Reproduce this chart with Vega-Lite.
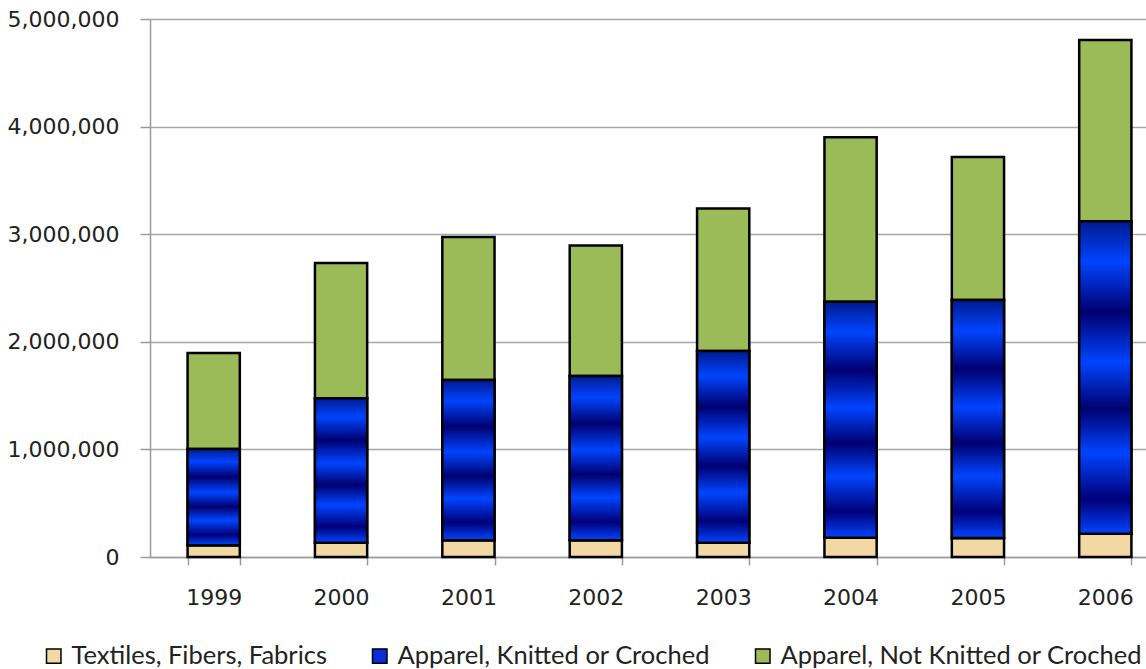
{
  "$schema": "https://vega.github.io/schema/vega-lite/v6.json",
  "width": 1019,
  "height": 538,
  "padding": {"left": 7, "top": 8, "right": 0, "bottom": 0},
  "autosize": {"type": "pad"},
  "background": "white",
  "config": {
    "view": {"stroke": null},
    "font": "DejaVu Sans"
  },
  "data": {
    "values": [
      {"year": "1999", "series": "Textiles, Fibers, Fabrics", "order": 1, "value": 109000},
      {"year": "1999", "series": "Apparel, Knitted or Croched", "order": 2, "value": 895000},
      {"year": "1999", "series": "Apparel, Not Knitted or Croched", "order": 3, "value": 893000},
      {"year": "2000", "series": "Textiles, Fibers, Fabrics", "order": 1, "value": 133000},
      {"year": "2000", "series": "Apparel, Knitted or Croched", "order": 2, "value": 1342000},
      {"year": "2000", "series": "Apparel, Not Knitted or Croched", "order": 3, "value": 1257000},
      {"year": "2001", "series": "Textiles, Fibers, Fabrics", "order": 1, "value": 156000},
      {"year": "2001", "series": "Apparel, Knitted or Croched", "order": 2, "value": 1489000},
      {"year": "2001", "series": "Apparel, Not Knitted or Croched", "order": 3, "value": 1329000},
      {"year": "2002", "series": "Textiles, Fibers, Fabrics", "order": 1, "value": 156000},
      {"year": "2002", "series": "Apparel, Knitted or Croched", "order": 2, "value": 1526000},
      {"year": "2002", "series": "Apparel, Not Knitted or Croched", "order": 3, "value": 1213000},
      {"year": "2003", "series": "Textiles, Fibers, Fabrics", "order": 1, "value": 133000},
      {"year": "2003", "series": "Apparel, Knitted or Croched", "order": 2, "value": 1781000},
      {"year": "2003", "series": "Apparel, Not Knitted or Croched", "order": 3, "value": 1326000},
      {"year": "2004", "series": "Textiles, Fibers, Fabrics", "order": 1, "value": 180000},
      {"year": "2004", "series": "Apparel, Knitted or Croched", "order": 2, "value": 2193000},
      {"year": "2004", "series": "Apparel, Not Knitted or Croched", "order": 3, "value": 1527000},
      {"year": "2005", "series": "Textiles, Fibers, Fabrics", "order": 1, "value": 177000},
      {"year": "2005", "series": "Apparel, Knitted or Croched", "order": 2, "value": 2211000},
      {"year": "2005", "series": "Apparel, Not Knitted or Croched", "order": 3, "value": 1329000},
      {"year": "2006", "series": "Textiles, Fibers, Fabrics", "order": 1, "value": 216000},
      {"year": "2006", "series": "Apparel, Knitted or Croched", "order": 2, "value": 2904000},
      {"year": "2006", "series": "Apparel, Not Knitted or Croched", "order": 3, "value": 1685000}
    ]
  },
  "transform": [
    {"stack": "value", "groupby": ["year"], "sort": [{"field": "order", "order": "ascending"}], "as": ["v0", "v1"]}
  ],
  "encoding": {
    "x": {
      "field": "year", "type": "nominal", "sort": null,
      "scale": {"paddingInner": 0.59, "paddingOuter": 0.295},
      "axis": {
        "title": null, "labelAngle": 0, "tickBand": "extent",
        "domainColor": "#9a9a9a", "domainWidth": 1.5,
        "tickColor": "#9a9a9a", "tickWidth": 1.5, "tickSize": 8,
        "labelFontSize": 22, "labelColor": "#222222", "labelPadding": 22,
        "grid": false
      }
    },
    "y": {
      "field": "v0", "type": "quantitative",
      "scale": {"domain": [0, 5000000], "nice": false},
      "axis": {
        "title": null, "format": ",.0f", "values": [0, 1000000, 2000000, 3000000, 4000000, 5000000],
        "labelOverlap": false,
        "domainColor": "#9a9a9a", "domainWidth": 1.5,
        "tickColor": "#9a9a9a", "tickWidth": 1.5, "tickSize": 10,
        "gridColor": "#a6a6a6", "gridWidth": 1.5,
        "labelFontSize": 22, "labelColor": "#222222", "labelPadding": 21
      }
    },
    "y2": {"field": "v1"}
  },
  "layer": [
    {
      "mark": {"type": "bar", "stroke": "black", "strokeWidth": 2.5, "strokeJoin": "miter"},
      "encoding": {
        "color": {
          "field": "series", "type": "nominal",
          "scale": {
            "domain": ["Textiles, Fibers, Fabrics", "Apparel, Knitted or Croched", "Apparel, Not Knitted or Croched"],
            "range": ["#f2d9a4", "#0a2fd8", "#9bbb59"]
          },
          "legend": {
            "title": null, "orient": "none", "direction": "horizontal",
            "legendX": -109, "legendY": 624,
            "labelFont": "Lato", "labelFontSize": 25.5, "labelColor": "#222222", "labelLimit": 0,
            "symbolType": "square", "symbolSize": 210, "symbolStrokeColor": "black", "symbolStrokeWidth": 1.5,
            "columnPadding": 40, "labelOffset": 5
          }
        }
      }
    },
    {
      "transform": [{"filter": "datum.order == 2"}],
      "mark": {
        "type": "bar", "stroke": "black", "strokeWidth": 2.5, "strokeJoin": "miter",
        "fill": {
          "gradient": "linear", "x1": 0, "y1": 0, "x2": 0, "y2": 1,
          "stops": [
            {"offset": 0, "color": "#001a90"},
            {"offset": 0.13, "color": "#0044ff"},
            {"offset": 0.29, "color": "#000070"},
            {"offset": 0.45, "color": "#0044ff"},
            {"offset": 0.6, "color": "#000070"},
            {"offset": 0.74, "color": "#0044ff"},
            {"offset": 0.89, "color": "#000078"},
            {"offset": 1, "color": "#0044ff"}
          ]
        }
      },
      "encoding": {}
    }
  ]
}
